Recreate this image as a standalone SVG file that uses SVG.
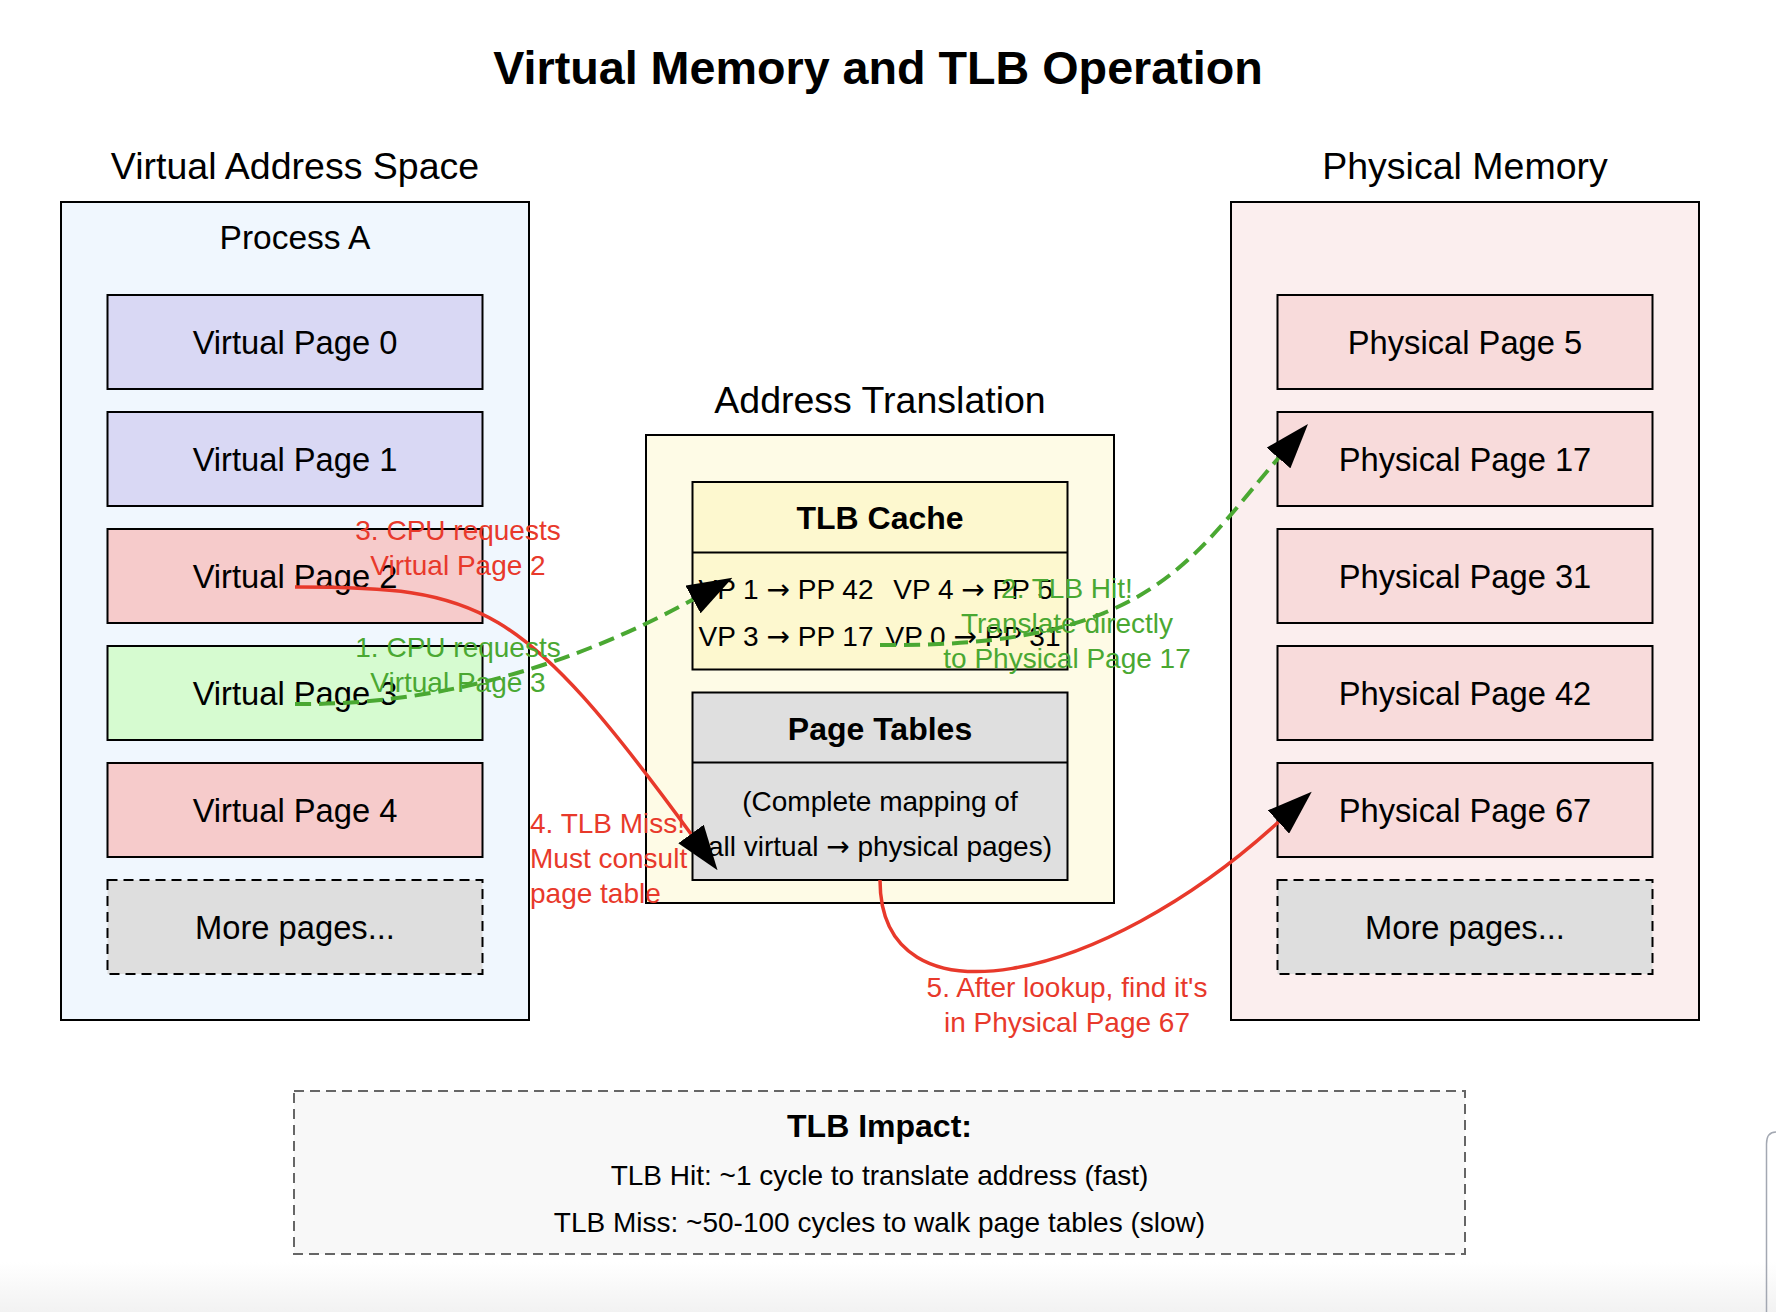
<svg xmlns="http://www.w3.org/2000/svg" width="1776" height="1312" viewBox="0 0 1776 1312">
<defs>
<style>
text{font-family:"Liberation Sans",Arial,Helvetica,sans-serif;fill:#000}
.ar{font-family:"DejaVu Sans",sans-serif}
.title{font-size:46.7px;font-weight:bold;text-anchor:middle}
.sec{font-size:37.5px;text-anchor:middle}
.pg{font-size:32.7px;text-anchor:middle}
.proc{font-size:33.5px;text-anchor:middle}
.hdr{font-size:32px;font-weight:bold;text-anchor:middle}
.t28{font-size:28px;text-anchor:middle}
.box{stroke:#000;stroke-width:2}
.dash{stroke-dasharray:10 6}
.vlav{fill:#d9d8f4}
.vred{fill:#f6cbcb}
.vgrn{fill:#d6fbd0}
.more{fill:#dedede}
.ppg{fill:#f8dbdb}
.red{fill:none;stroke:#e8392b;stroke-width:3.5}
.green{fill:none;stroke:#4aa832;stroke-width:4;stroke-dasharray:16 8}
.lr{fill:#e8392b;font-size:28px}
.lg{fill:#4aa832;font-size:28px}
</style>
<marker id="ah" viewBox="0 0 10 7" refX="0" refY="3.5" markerWidth="45" markerHeight="31.5" markerUnits="userSpaceOnUse" orient="auto"><path d="M0,0 L10,3.5 L0,7 z" fill="#000"/></marker>
<linearGradient id="bot" x1="0" y1="0" x2="0" y2="1"><stop offset="0" stop-color="#ffffff"/><stop offset="1" stop-color="#f2f2f2"/></linearGradient>
</defs>
<rect x="0" y="0" width="1776" height="1312" fill="#fff"/>
<rect x="0" y="1262" width="1776" height="50" fill="url(#bot)"/>
<path d="M1766.5,1312 V1144 Q1766.5,1132 1776,1132" fill="none" stroke="#a3a8b2" stroke-width="1.5"/>

<text class="title" x="878" y="84">Virtual Memory and TLB Operation</text>

<g id="virtual-address-space">
<text class="sec" x="295" y="179">Virtual Address Space</text>
<rect class="box" x="61" y="202" width="468" height="818" fill="#f0f7fe"/>
<text class="proc" x="295" y="249">Process A</text>
</g>
<g id="vp0"><rect class="box vlav" x="107.5" y="295" width="375" height="94"/><text class="pg" x="295" y="353.5">Virtual Page 0</text></g>
<g id="vp1"><rect class="box vlav" x="107.5" y="412" width="375" height="94"/><text class="pg" x="295" y="470.5">Virtual Page 1</text></g>
<g id="vp2"><rect class="box vred" x="107.5" y="529" width="375" height="94"/><text class="pg" x="295" y="587.5">Virtual Page 2</text></g>
<g id="vp3"><rect class="box vgrn" x="107.5" y="646" width="375" height="94"/><text class="pg" x="295" y="704.5">Virtual Page 3</text></g>
<g id="vp4"><rect class="box vred" x="107.5" y="763" width="375" height="94"/><text class="pg" x="295" y="821.5">Virtual Page 4</text></g>
<g id="vp-more"><rect class="box dash more" x="107.5" y="880" width="375" height="94"/><text class="pg" x="295" y="938.5">More pages...</text></g>

<g id="address-translation">
<text class="sec" x="880" y="413">Address Translation</text>
<rect class="box" x="646" y="435" width="468" height="468" fill="#fefbe6"/>
</g>
<g id="tlb-cache">
<rect class="box" x="692.5" y="482" width="375" height="187.5" fill="#fdf8cf"/>
<line class="box" x1="692.5" y1="552.5" x2="1067.5" y2="552.5"/>
<text class="hdr" x="880" y="529">TLB Cache</text>
<text class="t28" x="786" y="599">VP 1 <tspan class="ar">→</tspan> PP 42</text>
<text class="t28" x="973" y="599">VP 4 <tspan class="ar">→</tspan> PP 5</text>
<text class="t28" x="786" y="646">VP 3 <tspan class="ar">→</tspan> PP 17</text>
<text class="t28" x="973" y="646">VP 0 <tspan class="ar">→</tspan> PP 31</text>
</g>
<g id="page-tables">
<rect class="box" x="692.5" y="692.5" width="375" height="187.5" fill="#dfdfdf"/>
<line class="box" x1="692.5" y1="762.5" x2="1067.5" y2="762.5"/>
<text class="hdr" x="880" y="739.5">Page Tables</text>
<text class="t28" x="880" y="811">(Complete mapping of</text>
<text class="t28" x="880" y="856">all virtual <tspan class="ar">→</tspan> physical pages)</text>
</g>

<g id="physical-memory">
<text class="sec" x="1465" y="179">Physical Memory</text>
<rect class="box" x="1231" y="202" width="468" height="818" fill="#fbeeee"/>
</g>
<g id="pp5"><rect class="box ppg" x="1277.5" y="295" width="375" height="94"/><text class="pg" x="1465" y="353.5">Physical Page 5</text></g>
<g id="pp17"><rect class="box ppg" x="1277.5" y="412" width="375" height="94"/><text class="pg" x="1465" y="470.5">Physical Page 17</text></g>
<g id="pp31"><rect class="box ppg" x="1277.5" y="529" width="375" height="94"/><text class="pg" x="1465" y="587.5">Physical Page 31</text></g>
<g id="pp42"><rect class="box ppg" x="1277.5" y="646" width="375" height="94"/><text class="pg" x="1465" y="704.5">Physical Page 42</text></g>
<g id="pp67"><rect class="box ppg" x="1277.5" y="763" width="375" height="94"/><text class="pg" x="1465" y="821.5">Physical Page 67</text></g>
<g id="pp-more"><rect class="box dash more" x="1277.5" y="880" width="375" height="94"/><text class="pg" x="1465" y="938.5">More pages...</text></g>

<g id="connectors">
<path class="green" d="M295,704 C470,706 610,645 693,599.5" marker-end="url(#ah)"/>
<path class="green" d="M880,645 C1150,648 1190,560 1278.5,458" marker-end="url(#ah)"/>
<path class="red" d="M295,587 C480,587 520,600 691,834" marker-end="url(#ah)"/>
<path class="red" d="M880,880 C880,1030 1100,985 1278.5,822" marker-end="url(#ah)"/>
</g>

<g id="labels">
<text class="lg" text-anchor="middle" x="458" y="657">1. CPU requests</text>
<text class="lg" text-anchor="middle" x="458" y="692">Virtual Page 3</text>
<text class="lg" text-anchor="middle" x="1067" y="598">2. TLB Hit!</text>
<text class="lg" text-anchor="middle" x="1067" y="633">Translate directly</text>
<text class="lg" text-anchor="middle" x="1067" y="668">to Physical Page 17</text>
<text class="lr" text-anchor="middle" x="458" y="540">3. CPU requests</text>
<text class="lr" text-anchor="middle" x="458" y="575">Virtual Page 2</text>
<text class="lr" x="530" y="833">4. TLB Miss!</text>
<text class="lr" x="530" y="868">Must consult</text>
<text class="lr" x="530" y="903">page table</text>
<text class="lr" text-anchor="middle" x="1067" y="997">5. After lookup, find it's</text>
<text class="lr" text-anchor="middle" x="1067" y="1032">in Physical Page 67</text>
</g>

<g id="tlb-impact">
<rect x="294" y="1091" width="1171" height="163" fill="#f8f8f8" stroke="#666" stroke-width="2" stroke-dasharray="10 6"/>
<text class="hdr" x="879.5" y="1137">TLB Impact:</text>
<text class="t28" x="879.5" y="1185">TLB Hit: ~1 cycle to translate address (fast)</text>
<text class="t28" x="879.5" y="1232">TLB Miss: ~50-100 cycles to walk page tables (slow)</text>
</g>
</svg>
